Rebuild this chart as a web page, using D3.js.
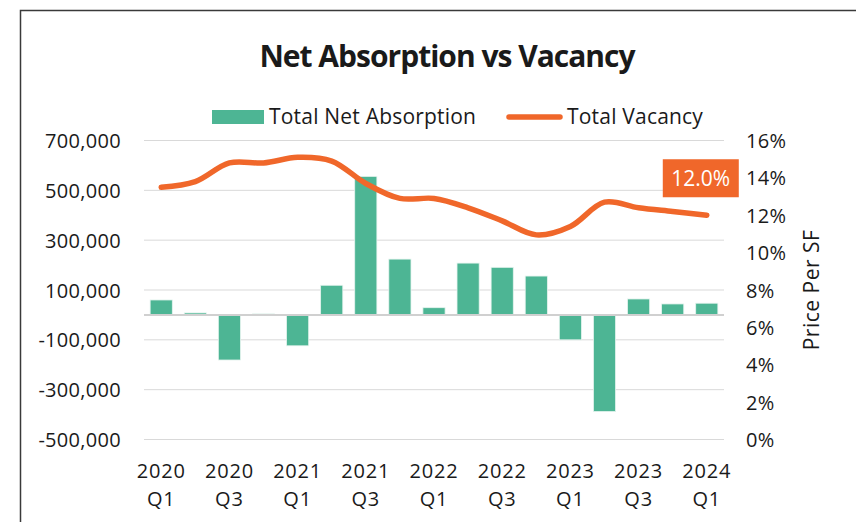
<!DOCTYPE html>
<html>
<head>
<meta charset="utf-8">
<script src="https://d3js.org/d3.v7.min.js"></script>
<style>
  body { margin: 0; background: #fff; }
  text { font-family: "Open Sans", "Noto Sans", sans-serif; fill: #1a1a1a; }
</style>
</head>
<body>
<div id="chart"></div>
<script>
// data
const quarters = ["2020 Q1","2020 Q2","2020 Q3","2020 Q4","2021 Q1","2021 Q2","2021 Q3","2021 Q4",
                  "2022 Q1","2022 Q2","2022 Q3","2022 Q4","2023 Q1","2023 Q2","2023 Q3","2023 Q4","2024 Q1"];
const netAbsorption = [60000, 8000, -181000, 4000, -124000, 119000, 556000, 224000,
                       29000, 208000, 191000, 156000, -100000, -388000, 64000, 44000, 47000];
const vacancy = [0.135, 0.138, 0.148, 0.148, 0.151, 0.149, 0.137, 0.129,
                 0.129, 0.124, 0.117, 0.1095, 0.114, 0.127, 0.124, 0.122, 0.120];
const leftTicks = [-500000, -300000, -100000, 100000, 300000, 500000, 700000];
const rightTicks = [0, 0.02, 0.04, 0.06, 0.08, 0.10, 0.12, 0.14, 0.16];

const W = 856, H = 522;
const plot = {left: 144, right: 724, top: 140.5, bottom: 439.5};
const green = "#4db594", orange = "#f0672a";

const svg = d3.select("#chart").append("svg")
    .attr("width", W).attr("height", H);

// frame
svg.append("path")
    .attr("d", `M20.5,${H} L20.5,10.5 L${W},10.5`)
    .attr("fill", "none").attr("stroke", "#3a3a3a").attr("stroke-width", 1.5);

// title
svg.append("text")
    .attr("x", 447).attr("y", 67)
    .attr("text-anchor", "middle")
    .style("font-size", "30px").style("font-weight", "bold")
    .style("letter-spacing", "-1px")
    .text("Net Absorption vs Vacancy");

// scales
const x = d3.scaleBand().domain(quarters)
    .range([plot.left, plot.right]).paddingInner(0.35).paddingOuter(0.18);
const yL = d3.scaleLinear().domain([-500000, 700000]).range([plot.bottom, plot.top]);
const yR = d3.scaleLinear().domain([0, 0.16]).range([plot.bottom, plot.top]);

// gridlines
svg.append("g").selectAll("line").data(leftTicks).join("line")
    .attr("x1", plot.left).attr("x2", plot.right)
    .attr("y1", d => yL(d)).attr("y2", d => yL(d))
    .attr("stroke", "#d9d9d9").attr("stroke-width", 1);

// left axis
const fmtL = d => d3.format(",")(d).replace("\u2212", "-");
const axL = svg.append("g")
    .attr("transform", `translate(${plot.left - 23},0)`)
    .call(d3.axisLeft(yL).tickValues(leftTicks).tickFormat(fmtL).tickSize(0).tickPadding(0));
axL.select(".domain").remove();
axL.selectAll("text").style("font-size", "20px").style("letter-spacing", "0.3px")
    .attr("fill", "#1a1a1a").attr("dy", "0.35em");

// right axis
const axR = svg.append("g")
    .attr("transform", `translate(${plot.right + 22},0)`)
    .call(d3.axisRight(yR).tickValues(rightTicks).tickFormat(d3.format(".0%")).tickSize(0).tickPadding(0));
axR.select(".domain").remove();
axR.selectAll("text").style("font-size", "20px").style("letter-spacing", "0.3px")
    .attr("fill", "#1a1a1a").attr("dy", "0.35em");

svg.append("text")
    .attr("transform", `translate(819,${(plot.top + plot.bottom) / 2}) rotate(-90)`)
    .attr("text-anchor", "middle")
    .style("font-size", "21px").style("letter-spacing", "0.5px")
    .text("Price Per SF");

// x labels (every other quarter)
const xl = svg.append("g").selectAll("text")
    .data(quarters.filter((q, i) => i % 2 === 0)).join("text")
    .attr("x", d => x(d) + x.bandwidth() / 2)
    .attr("text-anchor", "middle")
    .style("font-size", "20px").style("letter-spacing", "0.8px");
xl.append("tspan").attr("x", d => x(d) + x.bandwidth() / 2).attr("y", 478).text(d => d.split(" ")[0]);
xl.append("tspan").attr("x", d => x(d) + x.bandwidth() / 2).attr("y", 506).text(d => d.split(" ")[1]);

// bars
svg.append("g").selectAll("rect").data(quarters).join("rect")
    .attr("x", d => x(d))
    .attr("width", x.bandwidth())
    .attr("y", (d, i) => yL(Math.max(0, netAbsorption[i])))
    .attr("height", (d, i) => Math.abs(yL(netAbsorption[i]) - yL(0)))
    .attr("fill", green)
    .attr("stroke", "#e6f4ef").attr("stroke-width", 0.8);

// zero line
svg.append("line")
    .attr("x1", plot.left).attr("x2", plot.right)
    .attr("y1", yL(0)).attr("y2", yL(0))
    .attr("stroke", "#d0d0d0").attr("stroke-width", 2);

// vacancy line
const line = d3.line()
    .x((d, i) => x(quarters[i]) + x.bandwidth() / 2)
    .y(d => yR(d))
    .curve(d3.curveCatmullRom.alpha(0.5));
svg.append("path").datum(vacancy)
    .attr("d", line)
    .attr("fill", "none").attr("stroke", orange)
    .attr("stroke-width", 5.5).attr("stroke-linecap", "round").attr("stroke-linejoin", "round");

// last value label
const lastI = vacancy.length - 1;
const lx = x(quarters[lastI]) + x.bandwidth() / 2, ly = yR(vacancy[lastI]);
const lbl = svg.append("g").attr("transform", `translate(${lx - 6},${ly - 37})`);
lbl.append("rect").attr("x", -38).attr("y", -19).attr("width", 76).attr("height", 38).attr("fill", orange);
lbl.append("text").attr("text-anchor", "middle").attr("dy", "0.36em")
    .style("font-size", "21px").style("fill", "#fff")
    .text(d3.format(".1%")(vacancy[lastI]));

// legend
const lg = svg.append("g");
lg.append("rect").attr("x", 212).attr("y", 110).attr("width", 52).attr("height", 14).attr("fill", green);
lg.append("text").attr("x", 269).attr("y", 117).attr("dy", "0.35em")
    .style("font-size", "21px").style("letter-spacing", "0.2px").text("Total Net Absorption");
lg.append("line").attr("x1", 509).attr("x2", 560).attr("y1", 117).attr("y2", 117)
    .attr("stroke", orange).attr("stroke-width", 5.5).attr("stroke-linecap", "round");
lg.append("text").attr("x", 567).attr("y", 117).attr("dy", "0.35em")
    .style("font-size", "21px").style("letter-spacing", "0.2px").text("Total Vacancy");
</script>
</body>
</html>
